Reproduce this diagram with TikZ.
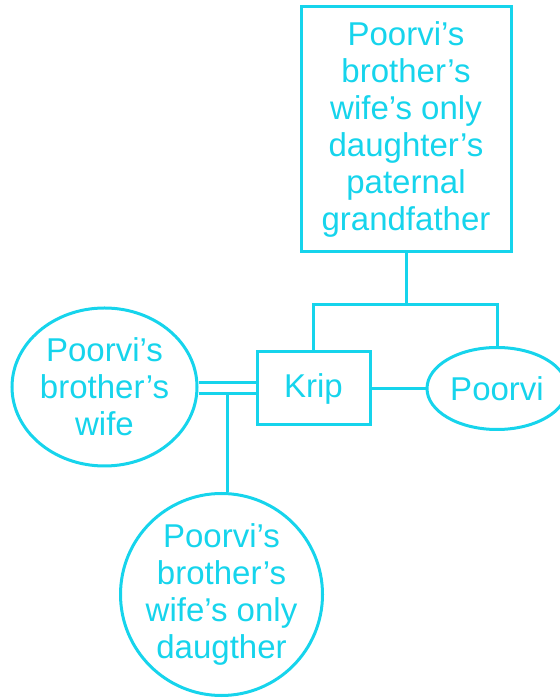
\documentclass[tikz,border=0pt]{standalone}
\usepackage{fontspec}
\setmainfont{Liberation Sans}
\usetikzlibrary{shapes.geometric}
\definecolor{kin}{RGB}{22,212,236}

\begin{document}
\begin{tikzpicture}[
			x = 1pt, y = 1pt,
			line width = 3pt,
			every node/.style={text=kin, align=center, inner sep=0pt,
				font=\fontsize{33}{37}\selectfont},
			person/.style={draw=kin, rectangle},
			oval/.style={draw=kin, ellipse},
			link/.style={draw=kin}
			]

			\useasboundingbox (0,0) rectangle (559,700);

			\node[person, minimum width=210, minimum height=245] (grandpa) at (406,570.5)
				{Poorvi's\\brother's\\wife's only\\daughter's\\paternal\\grandfather};
			\node[person, minimum width=113, minimum height=73] (krip) at (313.5,311.5) {Krip};
			\node[oval, minimum width=140, minimum height=82] (poorvi) at (497,311.5) {Poorvi};
			\node[oval, minimum width=185, minimum height=158, inner sep=-6pt] (wife) at (104.5,313)
				{Poorvi's\\brother's\\wife};
			\node[draw=kin, circle, minimum size=202, inner sep=-14pt] (daughter) at (221.5,105.5)
				{Poorvi's\\brother's\\wife's only\\daugther};

			\coordinate (fork) at (406,395);
			\coordinate (couple) at (227,307);

			\draw[link] (grandpa.south) -- (fork);
			\draw[link] (krip.north) |- (fork) -| (poorvi.north);
			\draw[link] (krip) -- (poorvi);
			\draw[link, double=white, double distance=8pt] (krip.west) -- (krip.west -| wife.east);
			\draw[link] (couple) -- (couple |- daughter.north);

		\end{tikzpicture}
\end{document}
